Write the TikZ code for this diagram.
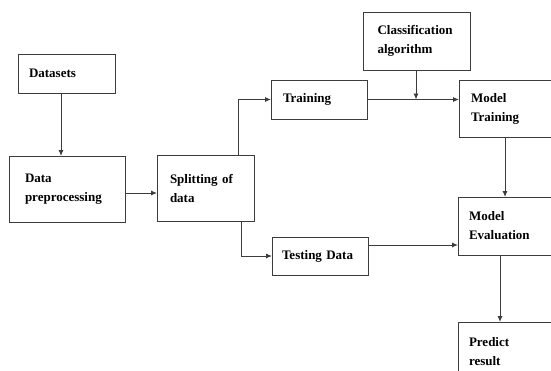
\documentclass[tikz,border=0pt]{standalone}
\usepackage{fontspec}
\setmainfont{Liberation Serif}
\usetikzlibrary{arrows.meta,calc}
\definecolor{linec}{HTML}{3C3C3C}
\begin{document}
\begin{tikzpicture}[x=1pt,y=-1pt,
  box/.style={draw=linec, line width=0.9pt, rectangle, anchor=north west,
    inner ysep=0pt, outer sep=0pt, align=left,
    font=\fontsize{13}{19}\selectfont\bfseries},
  bx/.style n args={4}{minimum width=#1pt, minimum height=#2pt, text width=#3pt, inner xsep=#4pt},
  arr/.style={draw=linec, line width=0.9pt, -{Latex[length=6pt,width=5pt]}}]
\useasboundingbox (0,0) rectangle (551,370);
\clip (0,0) rectangle (551,370);
\node[box, bx={97}{39}{75}{11}] (datasets) at (18,54) {Datasets};
\node[box, bx={116}{66}{84}{16}] (preproc) at (9,156) {Data\\preprocessing};
\node[box, bx={97}{66}{71}{13}] (split) at (157,155) {Splitting of\\data};
\node[box, bx={96}{39}{72}{12}] (training) at (271,80) {Training};
\node[box, bx={107}{58}{78}{14.5}] (class) at (363,12) {Classification\\algorithm};
\node[box, bx={111}{57}{87}{12}] (modeltrain) at (459,80) {Model\\Training};
\node[box, bx={112}{58}{90}{11}] (modeleval) at (458,197) {Model\\Evaluation};
\node[box, bx={96}{38}{76}{10}] (testing) at (272,237) {Testing Data};
\node[box, bx={112}{60}{90}{11}] (predict) at (458,322) {Predict\\result};

\coordinate (a1) at ($(datasets.south west)+(43,0)$);
\draw[arr] (a1) -- (a1 |- preproc.north);
\coordinate (a2) at ($(preproc.north east)+(0,37)$);
\draw[arr] (a2) -- (a2 -| split.west);
\coordinate (a3) at ($(split.north west)+(81,0)$);
\draw[arr] (a3) |- (training.west);
\coordinate (a4) at ($(split.south west)+(84,0)$);
\draw[arr] (a4) |- (testing.west);
\draw[arr] (training.east) -- (training.east -| modeltrain.west);
\coordinate (a5) at ($(class.south west)+(53,0)$);
\draw[arr] (a5) -- (a5 |- training.east);
\coordinate (a6) at ($(modeltrain.south west)+(46,0)$);
\draw[arr] (a6) -- (a6 |- modeleval.north);
\coordinate (a7) at ($(testing.north east)+(0,8)$);
\draw[arr] (a7) -- (a7 -| modeleval.west);
\coordinate (a8) at ($(modeleval.south west)+(42,0)$);
\draw[arr] (a8) -- (a8 |- predict.north);
\end{tikzpicture}
\end{document}
